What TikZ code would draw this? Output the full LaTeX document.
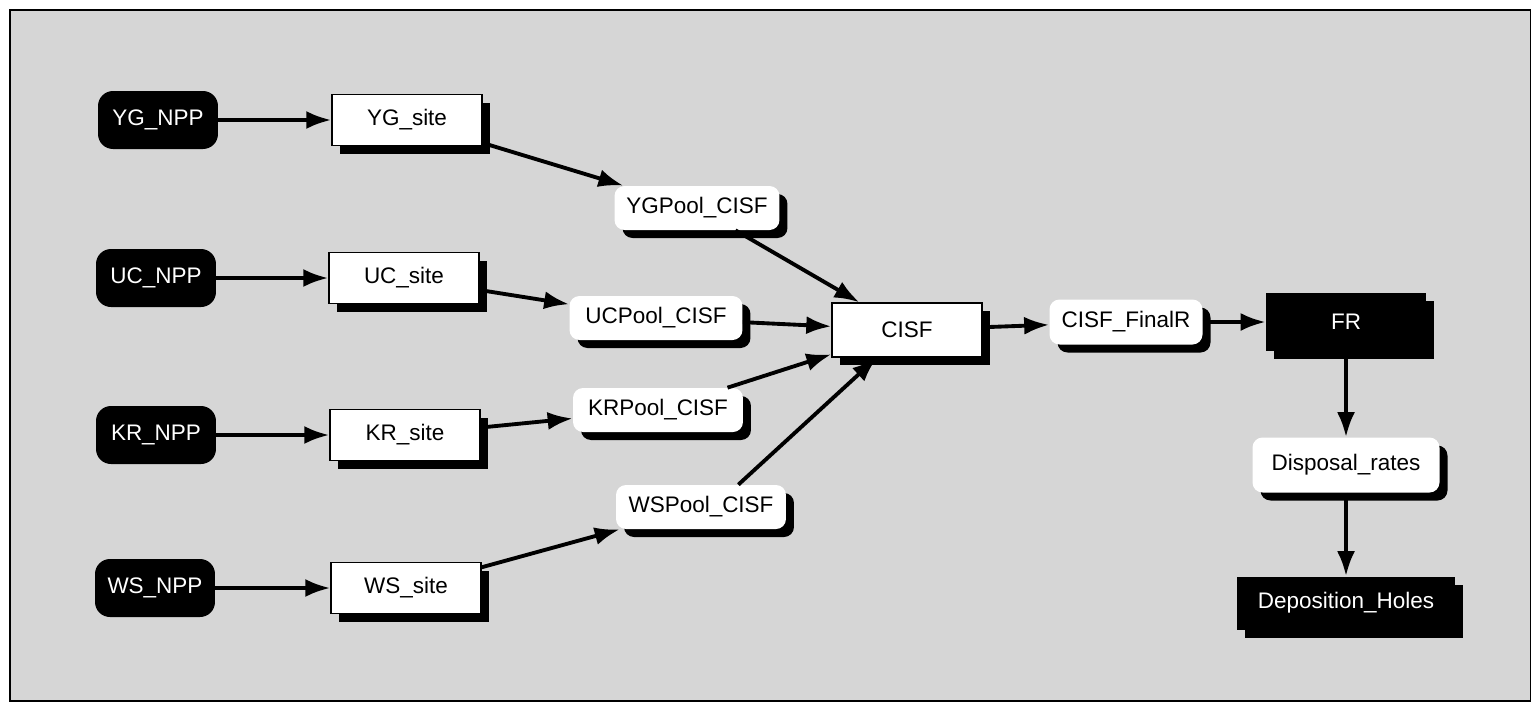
\documentclass[tikz,border=0pt]{standalone}
\usepackage{fontspec}
\setmainfont{Liberation Sans}
\usetikzlibrary{arrows.meta,shadows}

\begin{document}
\begin{tikzpicture}[x=0.02cm,y=-0.02cm,
  >={Latex[length=5mm,width=3.6mm]},
  font=\fontsize{12.8}{15}\selectfont,
  shad/.style={drop shadow={shadow xshift=0.16cm,shadow yshift=-0.16cm,opacity=1,fill=black}},
  npp/.style={fill=black,text=white,rounded corners=0.3cm,minimum width=2.4cm,minimum height=1.16cm,inner sep=0pt},
  site/.style={shad,draw=black,line width=0.8pt,fill=white,minimum width=3cm,minimum height=1.02cm,inner sep=0pt},
  pool/.style={shad,fill=white,rounded corners=0.2cm,minimum height=0.88cm,inner sep=0pt},
  dark/.style={shad,fill=black,text=white,minimum height=1.1cm,inner sep=0pt},
  flow/.style={->,line width=2.2pt}]

\useasboundingbox (0,0) rectangle (1531,704);
\draw[fill=black!16,line width=1pt] (10,10) rectangle (1531,701);

% sources and sites
\node[npp]  (ygnpp)  at (158,120) {YG\_NPP};
\node[site] (ygsite) at (407,120) {YG\_site};
\node[npp]  (ucnpp)  at (156,278) {UC\_NPP};
\node[site] (ucsite) at (404,278) {UC\_site};
\node[npp]  (krnpp)  at (156,435) {KR\_NPP};
\node[site] (krsite) at (405,435) {KR\_site};
\node[npp]  (wsnpp)  at (155,588) {WS\_NPP};
\node[site] (wssite) at (406,588) {WS\_site};

% pools
\node[pool,minimum width=3.3cm]  (ygpool) at (697,208) {YGPool\_CISF};
\node[pool,minimum width=3.46cm] (ucpool) at (656,318) {UCPool\_CISF};
\node[pool,minimum width=3.4cm]  (krpool) at (658,410) {KRPool\_CISF};
\node[pool,minimum width=3.4cm]  (wspool) at (701,507) {WSPool\_CISF};

% storage and disposal
\node[site,minimum height=1.08cm] (cisf) at (907,330) {CISF};
\node[pool,minimum width=3.06cm,minimum height=0.9cm] (finalr) at (1126,322) {CISF\_FinalR};
\node[dark,minimum width=3.2cm,minimum height=1.16cm] (fr) at (1346,322) {FR};
\node[pool,minimum width=3.74cm,minimum height=1.1cm] (disp) at (1346,465) {Disposal\_rates};
\node[dark,minimum width=4.36cm,minimum height=1.06cm] (holes) at (1346,603) {Deposition\_Holes};

\draw[flow] (ygnpp) -- (ygsite);
\draw[flow] (ucnpp) -- (ucsite);
\draw[flow] (krnpp) -- (krsite);
\draw[flow] (wsnpp) -- (wssite);

\draw[flow] (ygsite) -- (ygpool);
\draw[flow] (ucsite) -- (ucpool);
\draw[flow] (krsite) -- (krpool);
\draw[flow] (wssite) -- (wspool);

\draw[flow] (ygpool) -- (cisf);
\draw[flow] (ucpool) -- (cisf);
\draw[flow] (krpool) -- (cisf);
\draw[flow] (wspool.north east) ++(-48,0) coordinate (wsout) -- (cisf);

\draw[flow] (cisf) -- (finalr);
\draw[flow] (finalr) -- (fr);
\draw[flow] (fr) -- (disp);
\draw[flow] (disp) -- (holes);

\end{tikzpicture}
\end{document}
